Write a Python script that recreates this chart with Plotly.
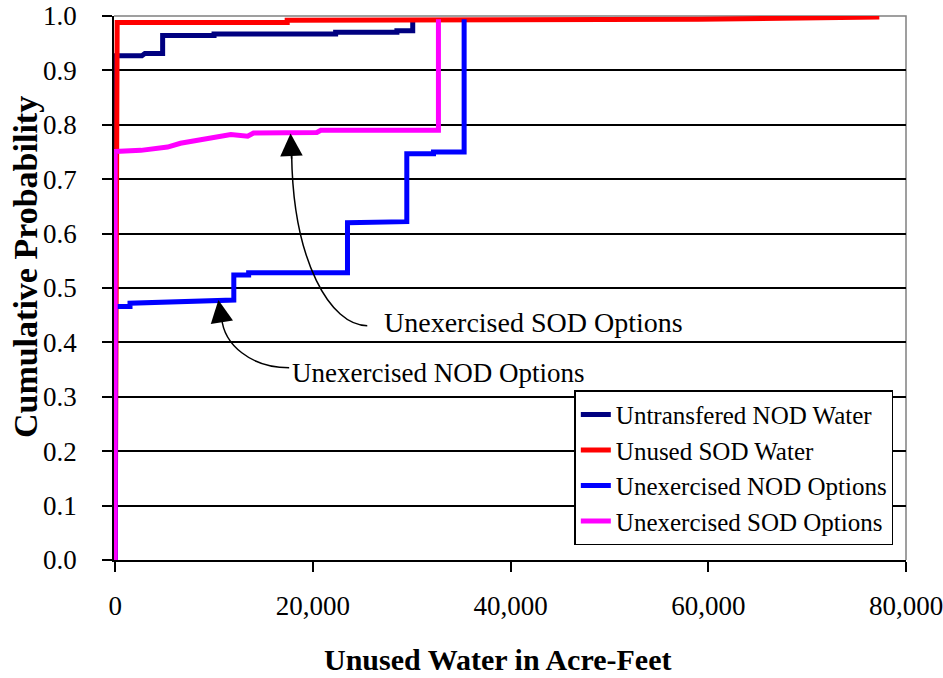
import plotly.graph_objects as go

# Cumulative distributions of unused water (acre-feet vs. cumulative probability)
nod_water_x = [0, 0, 2700, 3000, 4800, 4800, 10000, 10000, 22300, 22300, 28500, 28500, 30100, 30100]
nod_water_p = [0, 0.927, 0.927, 0.931, 0.931, 0.964, 0.964, 0.967, 0.967, 0.970, 0.970, 0.973, 0.973, 0.992]

sod_water_x = [0, 40, 80, 120, 200, 17400, 17400, 59000, 77300]
sod_water_p = [0, 0.50, 0.75, 0.95, 0.988, 0.988, 0.992, 0.994, 0.998]

nod_options_x = [0, 0, 1500, 1500, 12000, 12000, 13500, 13500, 23500, 23500, 29500, 29500, 32200, 32200, 35300, 35300]
nod_options_p = [0, 0.466, 0.466, 0.472, 0.478, 0.524, 0.524, 0.528, 0.528, 0.620, 0.622, 0.747, 0.747, 0.750, 0.750, 0.994]

sod_options_x = [0, 0, 2600, 5300, 6600, 8600, 11700, 13400, 14000, 20400, 20800, 32700, 32700]
sod_options_p = [0, 0.751, 0.753, 0.759, 0.766, 0.772, 0.782, 0.779, 0.785, 0.786, 0.790, 0.790, 0.994]

series_names = ["Untransfered NOD Water", "Unused SOD Water",
                "Unexercised NOD Options", "Unexercised SOD Options"]
series_colors = ["#000080", "#FF0000", "#0000FF", "#FF00FF"]

x_ticks = [0, 20000, 40000, 60000, 80000]
y_ticks = [round(i * 0.1, 1) for i in range(11)]

SERIF = "Liberation Serif, Times New Roman, serif"

fig = go.Figure()
for name, color, xs, ps in zip(
        series_names, series_colors,
        [nod_water_x, sod_water_x, nod_options_x, sod_options_x],
        [nod_water_p, sod_water_p, nod_options_p, sod_options_p]):
    fig.add_trace(go.Scatter(x=xs, y=ps, mode="lines", name=name,
                             line=dict(color=color, width=5)))

# gray frame on top and right of the plotting area
fig.add_shape(type="path", xref="paper", yref="paper",
              path="M 0,1 L 1,1 L 1,0", line=dict(color="#808080", width=1.5),
              layer="between")

# curved callout leaders
fig.add_shape(type="path", xref="x", yref="y",
              path="M 25500,0.4307 C 21800,0.4307 18000,0.548 17850,0.745",
              line=dict(color="black", width=1.5))
fig.add_shape(type="path", xref="x", yref="y",
              path="M 17600,0.3535 C 13700,0.3535 11000,0.396 10770,0.4454",
              line=dict(color="black", width=1.5))

annotations = [
    dict(x=17740, y=0.784, ax=17850, ay=0.735, xref="x", yref="y", axref="x", ayref="y",
         text="", showarrow=True, arrowhead=2, arrowsize=3, arrowwidth=1.5, arrowcolor="black"),
    dict(x=10440, y=0.478, ax=10770, ay=0.440, xref="x", yref="y", axref="x", ayref="y",
         text="", showarrow=True, arrowhead=2, arrowsize=3, arrowwidth=1.5, arrowcolor="black"),
    dict(x=27000, y=0.436, xref="x", yref="y", xanchor="left", yanchor="middle",
         text="Unexercised SOD Options", showarrow=False,
         font=dict(family=SERIF, size=28, color="black")),
    dict(x=17700, y=0.344, xref="x", yref="y", xanchor="left", yanchor="middle",
         text="Unexercised NOD Options", showarrow=False,
         font=dict(family=SERIF, size=27, color="black")),
    dict(x=0.484, y=-0.183, xref="paper", yref="paper", xanchor="center", yanchor="middle",
         text="<b>Unused Water in Acre-Feet</b>", showarrow=False,
         font=dict(family=SERIF, size=30, color="black")),
    dict(x=-0.112, y=0.539, xref="paper", yref="paper", xanchor="center", yanchor="middle",
         text="<b>Cumulative Probability</b>", showarrow=False, textangle=-90,
         font=dict(family=SERIF, size=34, color="black")),
]

fig.update_layout(
    width=943, height=678,
    margin=dict(l=114, r=37, t=16, b=118, autoexpand=False),
    paper_bgcolor="white", plot_bgcolor="white",
    font=dict(family=SERIF, size=27, color="black"),
    annotations=annotations,
    legend=dict(x=0.984, y=0.027, xanchor="right", yanchor="bottom",
                bgcolor="white", bordercolor="black", borderwidth=1.5,
                font=dict(family=SERIF, size=25, color="black"),
                tracegroupgap=0),
    showlegend=True,
)

fig.update_xaxes(range=[-120, 80000], tickvals=x_ticks, tickformat=",",
                 ticks="outside", ticklen=10, tickwidth=1.5, tickcolor="black",
                 showline=True, linecolor="black", linewidth=2,
                 showgrid=False, zeroline=False, ticklabelstandoff=11,
                 ticklabeloverflow="allow", automargin=False,
                 tickfont=dict(family=SERIF, size=27, color="black"))
fig.update_yaxes(range=[0, 1], tickvals=y_ticks, tickformat=".1f",
                 ticks="outside", ticklen=10, tickwidth=1.5, tickcolor="black",
                 showline=True, linecolor="black", linewidth=1.5,
                 showgrid=True, gridcolor="black", gridwidth=1.5,
                 zeroline=False, ticklabelstandoff=20,
                 ticklabeloverflow="allow", automargin=False,
                 tickfont=dict(family=SERIF, size=27, color="black"))

fig.write_html("out.html")
